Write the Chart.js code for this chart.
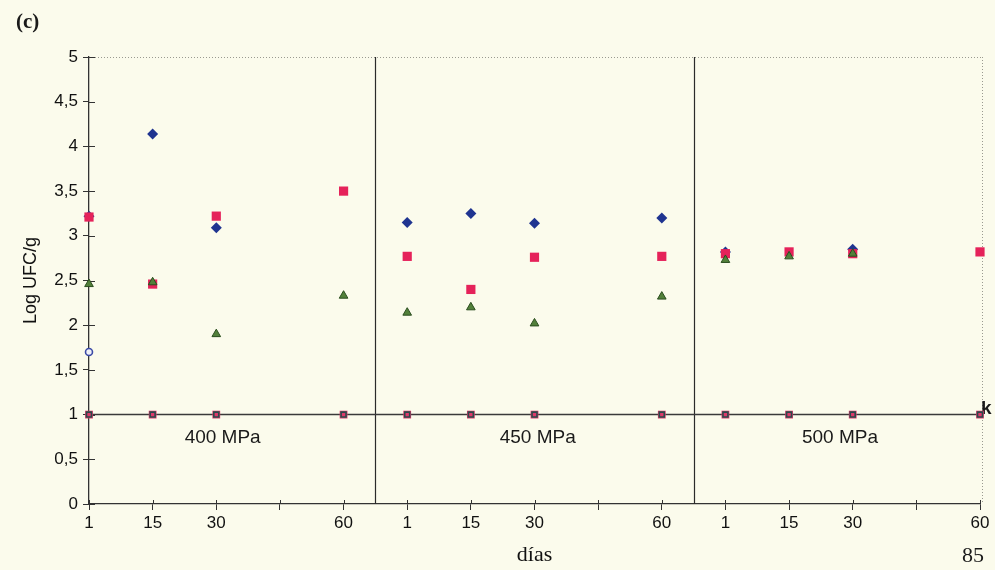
<!DOCTYPE html>
<html>
<head>
<meta charset="utf-8">
<script src="https://cdn.jsdelivr.net/npm/chart.js@4.4.1/dist/chart.umd.min.js"></script>
<style>
  html, body { margin: 0; padding: 0; background: #fbfbec; }
  #wrap { width: 995px; height: 570px; position: relative; }
</style>
</head>
<body>
<div id="wrap"><canvas id="ufcChart" width="995" height="570"></canvas></div>
<script>
// eje x: 3 bloques de presión, días 1/15/30/(45)/60 en cada uno
const tickLabels = ['1', '15', '30', '', '60', '1', '15', '30', '', '60', '1', '15', '30', '', '60'];
const pressures = ['400 MPa', '450 MPa', '500 MPa'];
const pressureLabelX = [2.1, 7.05, 11.8];
const dividers = [4.5, 9.5];
const pointIndex = [0, 1, 2, 4, 5, 6, 7, 9, 10, 11, 12, 14];

// Log UFC/g por serie (null = sin punto)
const blueDiamond   = [3.22, 4.14, 3.09, null, 3.15, 3.25, 3.14, 3.20, 2.82, null, 2.85, null];
const redSquare     = [3.21, 2.46, 3.22, 3.50, 2.77, 2.40, 2.76, 2.77, 2.80, 2.82, 2.80, 2.82];
const greenTriangle = [2.46, 2.48, 1.90, 2.33, 2.14, 2.20, 2.02, 2.32, 2.73, 2.77, 2.80, null];
const blueCircle    = [1.70, null, null, null, null, null, null, null, null, null, null, null];
const limitRed      = [1, 1, 1, 1, 1, 1, 1, 1, 1, 1, 1, 1];
const limitOpen     = [1, 1, 1, 1, 1, 1, 1, 1, 1, 1, 1, 1];
const limitValue = 1;

function toPoints(vals) {
    return pointIndex
        .map((x, i) => ({ x: x, y: vals[i] }))
        .filter(p => p.y !== null);
}

const sansFont = '"Liberation Sans", Arial, sans-serif';
const serifFont = '"Liberation Serif", "Times New Roman", serif';

// líneas divisorias, límite de detección, bordes punteados y textos
const decorPlugin = {
    id: 'decor',
    beforeDatasetsDraw(chart) {
        const { ctx, chartArea: a, scales: { x, y } } = chart;
        ctx.save();

        // bordes superior y derecho punteados
        ctx.strokeStyle = '#9a9a90';
        ctx.lineWidth = 1;
        ctx.setLineDash([1, 2]);
        ctx.beginPath();
        ctx.moveTo(a.left, a.top + 0.5);
        ctx.lineTo(a.right + 2, a.top + 0.5);
        ctx.moveTo(a.right + 2.5, a.top);
        ctx.lineTo(a.right + 2.5, a.bottom);
        ctx.stroke();
        ctx.setLineDash([]);

        // separadores de presión
        ctx.strokeStyle = '#2a2a2a';
        ctx.lineWidth = 1.2;
        dividers.forEach(d => {
            const px = Math.round(x.getPixelForValue(d)) + 0.5;
            ctx.beginPath();
            ctx.moveTo(px, a.top);
            ctx.lineTo(px, a.bottom);
            ctx.stroke();
        });

        // línea del límite de detección
        const ly = Math.round(y.getPixelForValue(limitValue)) - 0.5;
        ctx.strokeStyle = '#3a3a3a';
        ctx.lineWidth = 1.6;
        ctx.beginPath();
        ctx.moveTo(a.left, ly);
        ctx.lineTo(a.right, ly);
        ctx.stroke();

        // marcas de las escalas hacia dentro
        ctx.strokeStyle = '#333';
        ctx.lineWidth = 1;
        y.ticks.forEach(t => {
            const py = Math.round(y.getPixelForValue(t.value)) + 0.5;
            ctx.beginPath();
            ctx.moveTo(a.left, py);
            ctx.lineTo(a.left + 6, py);
            ctx.stroke();
        });
        x.ticks.forEach(t => {
            const px = Math.round(x.getPixelForValue(t.value)) + 0.5;
            ctx.beginPath();
            ctx.moveTo(px, a.bottom);
            ctx.lineTo(px, a.bottom - 4);
            ctx.stroke();
        });

        // nombres de las presiones
        ctx.fillStyle = '#1a1a1a';
        ctx.font = '19px ' + sansFont;
        ctx.textAlign = 'center';
        ctx.textBaseline = 'middle';
        const py = y.getPixelForValue(0.74);
        pressures.forEach((p, i) => {
            ctx.fillText(p, x.getPixelForValue(pressureLabelX[i]), py);
        });

        // k al final de la línea
        ctx.font = 'bold 19px ' + sansFont;
        ctx.textAlign = 'left';
        ctx.fillText('k', a.right + 1, ly - 6);

        // (c) y número de página
        ctx.font = 'bold 21px ' + serifFont;
        ctx.fillText('(c)', 16, 23);
        ctx.font = '22px ' + serifFont;
        ctx.fillText('85', 962, 556);
        ctx.restore();
    }
};

const ctx = document.getElementById('ufcChart');

new Chart(ctx, {
    type: 'scatter',
    data: {
        datasets: [
            {
                label: 'límite (abierto)',
                data: toPoints(limitOpen),
                pointStyle: 'rect',
                pointRadius: 3.5,
                backgroundColor: 'rgba(0,0,0,0)',
                borderColor: '#2c4a4c',
                borderWidth: 1.6
            },
            {
                label: 'límite',
                data: toPoints(limitRed),
                pointStyle: 'rect',
                pointRadius: 5.5,
                backgroundColor: '#e0386a',
                borderColor: '#e0386a',
                borderWidth: 0
            },
            {
                label: 'triángulo',
                data: toPoints(greenTriangle),
                pointStyle: 'triangle',
                pointRadius: 5,
                backgroundColor: '#52803a',
                borderColor: '#2a4d1e',
                borderWidth: 1
            },
            {
                label: 'cuadrado',
                data: toPoints(redSquare),
                pointStyle: 'rect',
                pointRadius: 6.5,
                backgroundColor: '#e5225a',
                borderColor: '#e5225a',
                borderWidth: 0
            },
            {
                label: 'círculo',
                data: toPoints(blueCircle),
                pointStyle: 'circle',
                pointRadius: 3.5,
                backgroundColor: '#eef0f8',
                borderColor: '#3b4aa6',
                borderWidth: 1.6
            },
            {
                label: 'rombo',
                data: toPoints(blueDiamond),
                pointStyle: 'rectRot',
                pointRadius: 5.5,
                backgroundColor: '#1f3490',
                borderColor: '#1f3490',
                borderWidth: 0
            }
        ]
    },
    options: {
        responsive: false,
        animation: false,
        datasets: { scatter: { clip: false } },
        layout: { padding: { left: 0, right: 15, top: 57, bottom: 0 } },
        plugins: {
            legend: { display: false },
            tooltip: { enabled: false }
        },
        scales: {
            x: {
                type: 'linear',
                min: 0,
                max: 14,
                afterFit(scale) { scale.height = 66; },
                afterBuildTicks(scale) {
                    scale.ticks = tickLabels.map((_, i) => ({ value: i }));
                },
                ticks: {
                    color: '#111',
                    font: { family: sansFont, size: 17 },
                    padding: 3,
                    maxRotation: 0,
                    autoSkip: false,
                    callback: (v) => tickLabels[v]
                },
                grid: { drawOnChartArea: false, tickLength: 6, color: '#333' },
                border: { color: '#333', width: 1.3 },
                title: {
                    display: true,
                    text: 'días',
                    color: '#111',
                    font: { family: serifFont, size: 22 },
                    padding: { top: 0, bottom: 2 }
                }
            },
            y: {
                min: 0,
                max: 5,
                afterFit(scale) { scale.width = 89; },
                ticks: {
                    stepSize: 0.5,
                    color: '#111',
                    font: { family: sansFont, size: 17 },
                    padding: 5,
                    callback: (v) => String(v).replace('.', ',')
                },
                grid: { drawOnChartArea: false, tickLength: 6, color: '#333' },
                border: { color: '#333', width: 1.3 },
                title: {
                    display: true,
                    text: 'Log UFC/g',
                    color: '#111',
                    font: { family: sansFont, size: 18 },
                    padding: { top: 20, bottom: 0 }
                }
            }
        }
    },
    plugins: [decorPlugin]
});
</script>
</body>
</html>
